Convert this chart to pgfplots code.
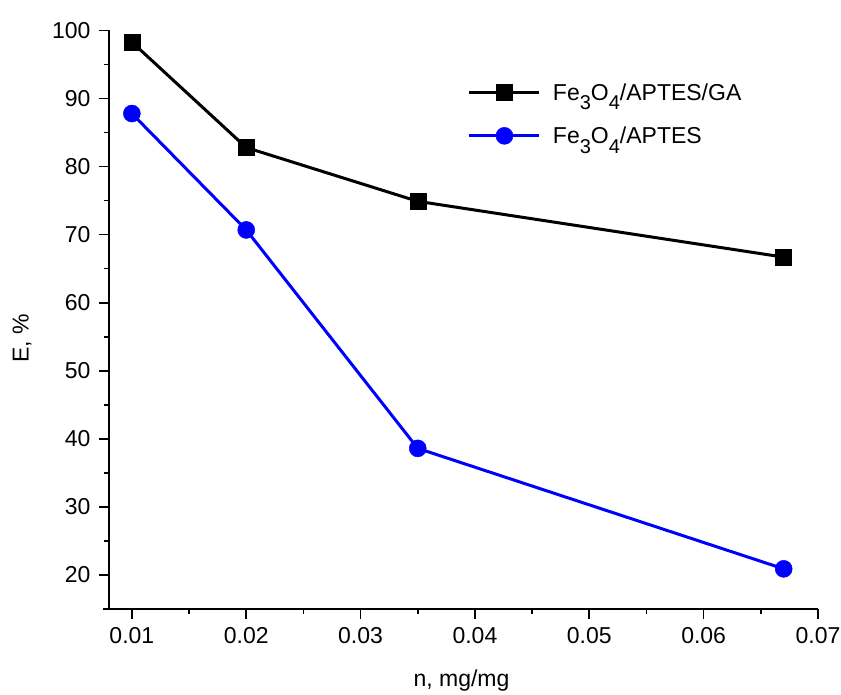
\documentclass[border=0pt]{standalone}
\usepackage{fontspec}
\setmainfont{Liberation Sans}
\usepackage{pgfplots}
\pgfplotsset{compat=1.18}
\definecolor{serblue}{RGB}{0,0,255}
\newcommand\sub[1]{\raisebox{-0.8ex}{\fontsize{20}{20}\selectfont #1}}
\newcommand\lbl{\fontsize{23}{27}\selectfont}

\begin{document}
\begin{tikzpicture}
\begin{axis}[
  at={(0,0)}, anchor=south west,
  scale only axis, width=709pt, height=578.5pt,
  xmin=0.008, xmax=0.07, ymin=15, ymax=100,
  axis lines*=left,
  axis line style={line width=1.6pt, -},
  x axis line style={shorten <=-6pt},
  scaled x ticks=false,
  xtick={0.01,0.02,0.03,0.04,0.05,0.06,0.07},
  xticklabels={0.01,0.02,0.03,0.04,0.05,0.06,0.07},
  ytick={20,30,40,50,60,70,80,90,100},
  minor x tick num=1, minor y tick num=1,
  tick align=outside, major tick length=10pt, minor tick length=5pt,
  every tick/.style={line width=1.6pt, black},
  /pgf/number format/assume math mode=true,
  tick label style={font=\lbl},
  yticklabel style={xshift=-5pt},
  xticklabel style={yshift=-5pt},
  xlabel={n, mg/mg}, ylabel={E, \%},
  label style={font=\lbl},
  xlabel style={at={(axis description cs:0.5,-0.1245)}, anchor=center, xshift=-2pt},
  ylabel style={at={(axis description cs:-0.1227,0.468)}, anchor=center},
  legend style={draw=none, fill=none, at={(0.506,0.912)}, anchor=north west,
    font=\lbl, row sep=21pt, inner sep=0pt},
  legend cell align=left,
  legend image code/.code={%
    \draw[mark repeat=2, mark phase=2] plot coordinates {(0pt,0pt) (35pt,0pt) (70pt,0pt)};},
]
\addplot[black, line width=3pt, mark=square*, mark size=8pt,
  mark options={solid, line width=0.5pt}]
  coordinates {(0.01,98.3) (0.02,82.8) (0.035,74.9) (0.067,66.7)};
\addlegendentry{\hspace{10pt}Fe\sub{3}O\sub{4}/APTES/GA}
\addplot[serblue, line width=3pt, mark=*, mark size=8.5pt,
  mark options={solid, line width=0.5pt}]
  coordinates {(0.01,87.8) (0.02,70.7) (0.035,38.6) (0.067,20.9)};
\addlegendentry{\hspace{10pt}Fe\sub{3}O\sub{4}/APTES}
\end{axis}
\pgfresetboundingbox
\path[use as bounding box] (-109pt,-86pt) rectangle (732pt,609pt);
\end{tikzpicture}
\end{document}
